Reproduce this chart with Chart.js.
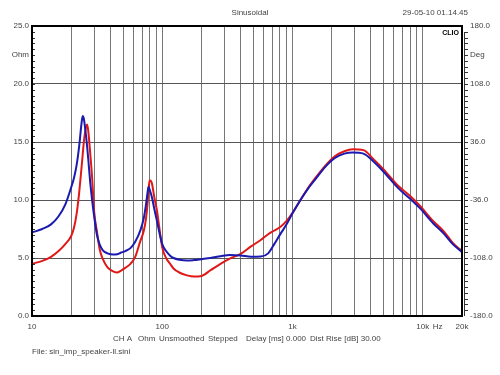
<!DOCTYPE html>
<html>
<head>
<meta charset="utf-8">
<script src="https://cdn.jsdelivr.net/npm/chart.js@4/dist/chart.umd.min.js"></script>
<style>
  body { margin: 0; background: #fff; }
  canvas { display: block; }
</style>
</head>
<body>
<canvas id="imp" width="500" height="375"></canvas>
<script>
// frequency points (Hz) and impedance readings (Ohm) for the two measurements
var freq = [10, 12, 14, 16, 18, 20, 21, 22, 23, 24, 24.5, 25, 26, 26.5, 27, 28, 29, 30, 31.5, 33, 35, 38, 42, 45, 48, 52, 57, 62, 68, 72, 75, 77, 78.5, 80, 83, 87, 91, 95, 100, 107, 115, 122, 135, 155, 175, 200, 235, 280, 330, 400, 480, 570, 650, 720, 810, 900, 1000, 1150, 1300, 1500, 1800, 2100, 2500, 2900, 3500, 4200, 5000, 6500, 8000, 9500, 12000, 14500, 17000, 20000];
var blueOhm = [7.2, 7.5, 7.9, 8.6, 9.6, 11.1, 11.9, 13.0, 14.6, 16.6, 17.25, 17.0, 15.5, 14.6, 13.6, 11.5, 9.9, 8.6, 7.0, 6.2, 5.65, 5.4, 5.3, 5.32, 5.45, 5.6, 5.85, 6.4, 7.4, 8.4, 9.6, 10.6, 11.15, 10.9, 10.3, 9.2, 8.2, 7.2, 6.2, 5.6, 5.2, 5.0, 4.85, 4.78, 4.82, 4.9, 5.0, 5.15, 5.26, 5.22, 5.1, 5.12, 5.4, 6.15, 7.1, 7.9, 8.85, 10.0, 10.9, 11.8, 12.9, 13.6, 14.0, 14.1, 14.0, 13.3, 12.44, 11.0, 10.1, 9.3, 8.0, 7.1, 6.2, 5.5];
var redOhm = [4.5, 4.75, 5.1, 5.6, 6.2, 6.9, 7.6, 8.8, 10.6, 12.8, 13.9, 15.0, 16.3, 16.5, 16.0, 14.0, 11.8, 9.0, 7.3, 5.8, 4.9, 4.2, 3.85, 3.75, 3.9, 4.15, 4.5, 5.1, 6.5, 7.3, 8.4, 9.6, 10.9, 11.7, 11.5, 10.2, 9.1, 7.6, 5.9, 5.0, 4.5, 4.1, 3.75, 3.5, 3.4, 3.45, 3.95, 4.5, 4.95, 5.35, 6.0, 6.55, 7.05, 7.35, 7.7, 8.2, 8.9, 10.0, 10.95, 11.9, 13.0, 13.75, 14.2, 14.37, 14.3, 13.5, 12.64, 11.2, 10.35, 9.5, 8.2, 7.3, 6.3, 5.6];

// axis ticks
var ohmTicks = [0, 5, 10, 15, 20, 22.5, 25];
var degTicks = [-180, -108, -36, 36, 108, 144, 180];
var freqLabels = { 10: '10', 100: '100', 1000: '1k', 10000: '10k', 13000: 'Hz', 20000: '20k' };

var FONT = "'Liberation Sans', Arial, sans-serif";
var TXT = '#444';

function pts(ys) {
    return freq.map(function (f, i) { return { x: f, y: ys[i] }; });
}

var clioFrame = {
    id: 'clioFrame',
    afterDraw: function (chart) {
        var ctx = chart.ctx, a = chart.chartArea;
        var y = chart.scales.y;
        ctx.save();
        // minor ticks, left inside and right outside
        ctx.strokeStyle = '#333';
        ctx.lineWidth = 1;
        for (var v = 0.5; v < 25; v += 0.5) {
            var py = Math.round(y.getPixelForValue(v)) + 0.5;
            ctx.beginPath();
            ctx.moveTo(a.left, py); ctx.lineTo(a.left + 3, py);
            ctx.moveTo(a.right + 2, py); ctx.lineTo(a.right + 6, py);
            ctx.stroke();
        }
        ctx.beginPath();
        ctx.moveTo(a.right + 2.5, a.top + 6); ctx.lineTo(a.right + 2.5, a.bottom);
        ctx.stroke();
        // frame
        ctx.strokeStyle = '#000';
        ctx.lineWidth = 2;
        ctx.strokeRect(a.left, a.top, a.right - a.left, a.bottom - a.top);
        // header and footer text
        ctx.fillStyle = TXT;
        ctx.font = '8px ' + FONT;
        ctx.textBaseline = 'middle';
        ctx.textAlign = 'center';
        ctx.fillText('Sinusoidal', 250, 13);
        ctx.textAlign = 'right';
        ctx.fillText('29-05-10 01.14.45', 468, 13);
        ctx.textAlign = 'left';
        var foot = [['CH A', 113], ['Ohm', 138], ['Unsmoothed', 159], ['Stepped', 208], ['Delay [ms] 0.000', 246], ['Dist Rise [dB] 30.00', 310]];
        foot.forEach(function (s) { ctx.fillText(s[0], s[1], 339); });
        ctx.fillText('File: sin_imp_speaker-ll.sini', 32, 352);
        ctx.fillStyle = '#000';
        ctx.font = 'bold 7px ' + FONT;
        ctx.textAlign = 'right';
        ctx.fillText('CLIO', a.right - 3, a.top + 7);
        ctx.restore();
    }
};

new Chart(document.getElementById('imp'), {
    type: 'line',
    data: {
        datasets: [
            { label: 'blue', data: pts(blueOhm), borderColor: '#1a1ab0', borderWidth: 2, pointRadius: 0, cubicInterpolationMode: 'monotone', yAxisID: 'y' },
            { label: 'red', data: pts(redOhm), borderColor: '#e01818', borderWidth: 2, pointRadius: 0, cubicInterpolationMode: 'monotone', yAxisID: 'y' }
        ]
    },
    options: {
        responsive: false,
        animation: false,
        layout: { padding: { top: 26, bottom: 0, left: 0, right: 0 } },
        plugins: { legend: { display: false }, tooltip: { enabled: false } },
        scales: {
            x: {
                type: 'logarithmic',
                min: 10,
                max: 20000,
                afterBuildTicks: function (s) {
                    var t = [];
                    [10, 100, 1000, 10000].forEach(function (d) {
                        for (var m = 1; m <= 9; m++) { if (d * m <= 20000) t.push({ value: d * m }); }
                    });
                    t.push({ value: 13000 });
                    t.sort(function (p, q) { return p.value - q.value; });
                    s.ticks = t;
                },
                afterFit: function (s) { s.height = 59; },
                border: { display: false },
                grid: {
                    drawTicks: false,
                    lineWidth: 1,
                    color: function (c) {
                        var v = c.tick && c.tick.value;
                        return (v === 10 || v === 13000 || v === 20000) ? 'rgba(0,0,0,0)' : '#777';
                    }
                },
                ticks: {
                    autoSkip: false,
                    maxRotation: 0,
                    padding: 6,
                    color: TXT,
                    font: { family: FONT, size: 8 },
                    callback: function (v) { return freqLabels[v] || ''; }
                }
            },
            y: {
                position: 'left',
                min: 0,
                max: 25,
                afterBuildTicks: function (s) { s.ticks = ohmTicks.map(function (v) { return { value: v }; }); },
                afterFit: function (s) { s.width = 32; },
                border: { display: false },
                grid: {
                    drawTicks: false,
                    color: function (c) {
                        var v = c.tick && c.tick.value;
                        return (v > 0 && v < 25 && v % 5 === 0) ? '#555' : 'rgba(0,0,0,0)';
                    }
                },
                ticks: {
                    autoSkip: false,
                    padding: 3,
                    color: TXT,
                    font: { family: FONT, size: 8 },
                    callback: function (v) { return v === 22.5 ? 'Ohm' : v.toFixed(1); }
                }
            },
            y2: {
                position: 'right',
                min: -180,
                max: 180,
                afterBuildTicks: function (s) { s.ticks = degTicks.map(function (v) { return { value: v }; }); },
                afterFit: function (s) { s.width = 38; },
                border: { display: false },
                grid: { drawOnChartArea: false, drawTicks: false },
                ticks: {
                    autoSkip: false,
                    padding: 8,
                    color: TXT,
                    font: { family: FONT, size: 8 },
                    callback: function (v) { return v === 144 ? 'Deg' : v.toFixed(1); }
                }
            }
        }
    },
    plugins: [clioFrame]
});
</script>
</body>
</html>
